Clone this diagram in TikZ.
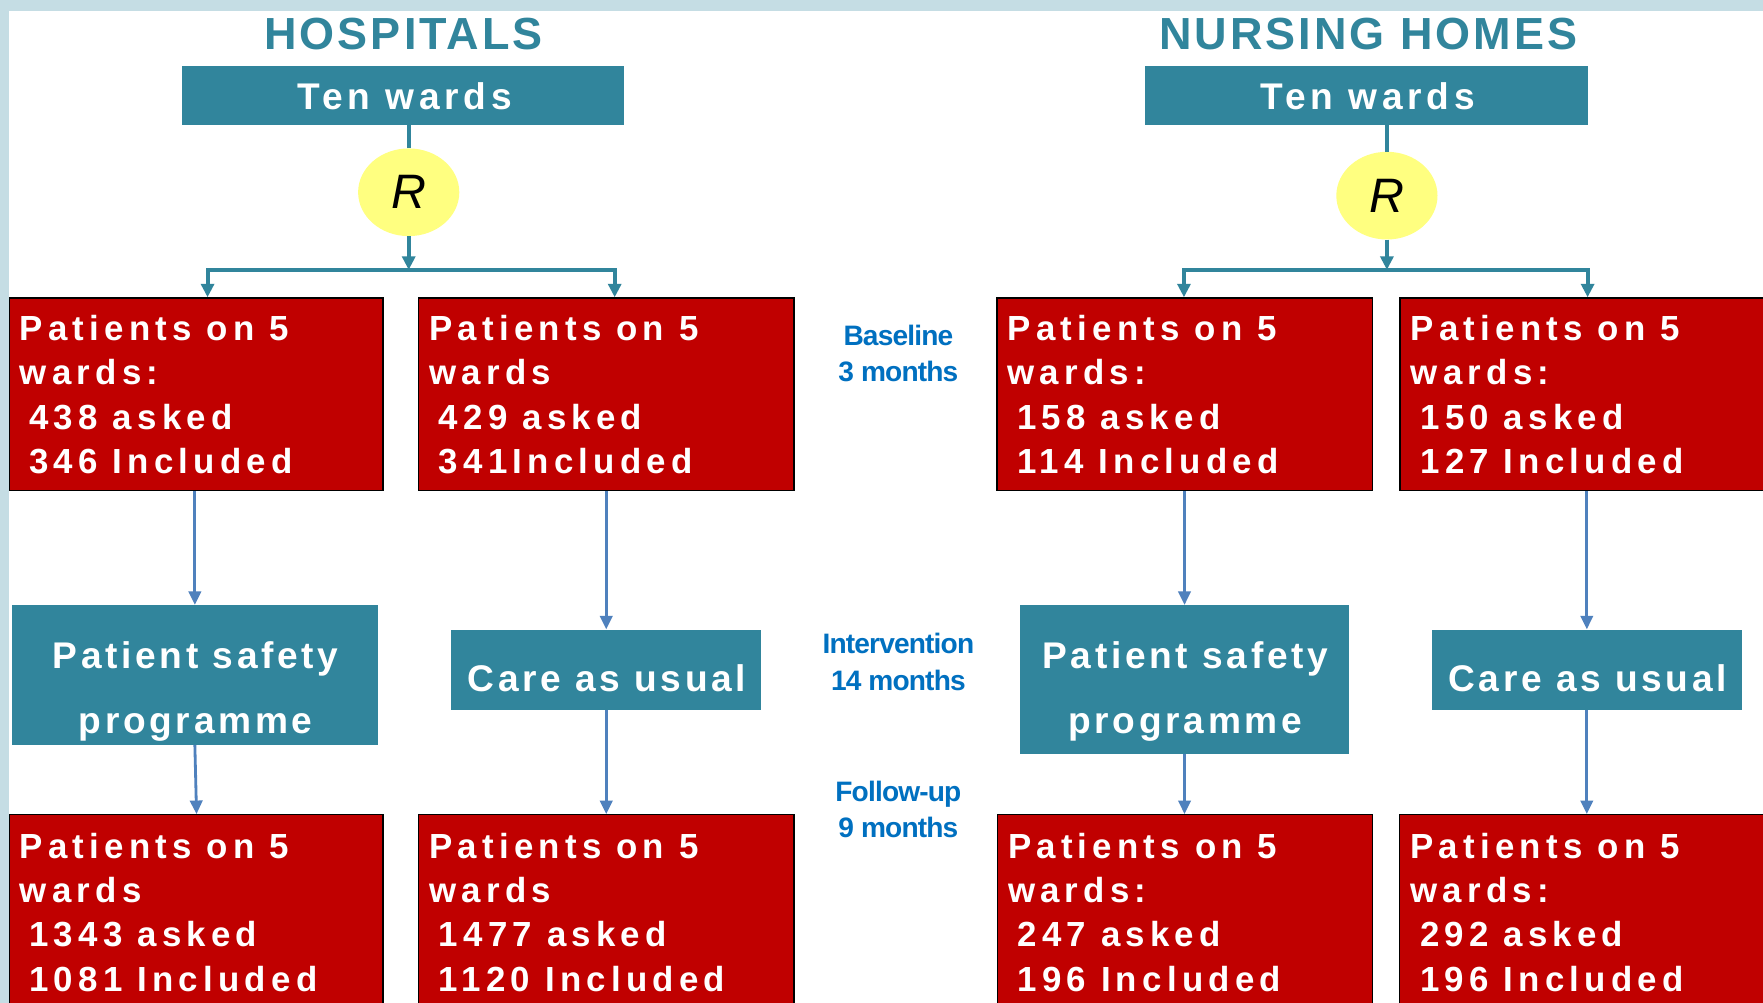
\documentclass[tikz,border=0pt]{standalone}
\usepackage{fontspec}
\setmainfont{Liberation Sans}
\newfontfamily\boxfont[LetterSpace=15]{Liberation Sans}
\newfontfamily\tealfont[LetterSpace=10]{Liberation Sans}
\newfontfamily\wardfont[LetterSpace=13]{Liberation Sans}
\newfontfamily\titlefont[LetterSpace=6.8]{Liberation Sans}
\newfontfamily\tightfont[LetterSpace=-3]{Liberation Sans}
\usetikzlibrary{arrows.meta,shapes.geometric}
\definecolor{tealc}{HTML}{31859C}
\definecolor{redc}{HTML}{C00000}
\definecolor{bluec}{HTML}{4F81BD}
\definecolor{lbluec}{HTML}{0070C0}
\definecolor{yelc}{HTML}{FFFF80}
\definecolor{bandc}{HTML}{C5DDE4}
\begin{document}
\begin{tikzpicture}[x=1pt,y=-1pt,
  redbox/.style={draw=black,line width=1.2pt,fill=redc,anchor=north west,inner sep=0pt,minimum height=171.4pt},
  tealbox/.style={fill=tealc,anchor=north west,inner sep=0pt},
  redtext/.style={anchor=north west,inner sep=0pt,align=left,text=white,font=\boxfont\bfseries\fontsize{31}{39.5}\selectfont},
  tealtext/.style={inner sep=0pt,align=center,text=white,font=\tealfont\bfseries\fontsize{33}{57.6}\selectfont},
  wardtext/.style={inner sep=0pt,anchor=base,text=white,font=\wardfont\bfseries\fontsize{33}{40}\selectfont},
  titletext/.style={anchor=base,inner sep=0pt,text=tealc,font=\titlefont\bfseries\fontsize{40}{48}\selectfont},
  phasetext/.style={anchor=north,inner sep=0pt,align=center,text=lbluec,font=\tightfont\bfseries\fontsize{25}{32.5}\selectfont},
  rnode/.style={ellipse,fill=yelc,minimum width=90pt,minimum height=78pt,inner sep=0pt,font=\itshape\fontsize{43}{48}\selectfont},
  tealline/.style={draw=tealc,line width=3.5pt},
  tealtip/.style={-{Triangle[width=11.5pt,length=12pt]}},
  bluearrow/.style={draw=bluec,line width=2.5pt,-{Triangle[width=11pt,length=12pt]}}
]
\clip (0,0) rectangle (1568,892);
\fill[white] (0,0) rectangle (1568,892);
\fill[bandc] (0,0) rectangle (1568,9.8);
\fill[bandc] (0,0) rectangle (7.7,892);

% titles
\node[titletext] (htitle) at (359,43.9) {HOSPITALS};
\node[titletext] (ntitle) at (1217,43.9) {NURSING HOMES};

% ten wards
\node[tealbox,minimum width=393pt,minimum height=51.9pt] (tw1) at (162,58.7) {};
\node[tealbox,minimum width=394pt,minimum height=51.9pt] (tw2) at (1018,58.7) {};
\node[wardtext] (tw1t) at (360,97.8) {Ten wards};
\node[wardtext] (tw2t) at (1216.5,97.8) {Ten wards};

% randomisation
\node[rnode] (r1) at (363.5,171) {R};
\node[rnode] (r2) at (1233.5,174) {R};

% red boxes row 1
\node[redbox,minimum width=332.3pt] (h1) at (7.7,264.4) {};
\node[redbox,minimum width=333.8pt] (h2) at (371.7,264.4) {};
\node[redbox,minimum width=334pt] (n1) at (886,264.4) {};
\node[redbox,minimum width=340pt] (n2) at (1244.6,264.4) {};

\node[redtext] (h1t) at (17.4,280.1) {Patients on 5\\wards:\\\hspace*{8.5pt}438 asked\\\hspace*{8.5pt}346 Included};
\node[redtext] (h2t) at (381.7,280.1) {Patients on 5\\wards\\\hspace*{8.5pt}429 asked\\\hspace*{8.5pt}341Included};
\node[redtext] (n1t) at (896,280.1) {Patients on 5\\wards:\\\hspace*{8.5pt}158 asked\\\hspace*{8.5pt}114 Included};
\node[redtext] (n2t) at (1254.6,280.1) {Patients on 5\\wards:\\\hspace*{8.5pt}150 asked\\\hspace*{8.5pt}127 Included};

% teal boxes row 2
\node[tealbox,minimum width=325.8pt,minimum height=124pt] (hp) at (10.2,538) {};
\node[tealbox,minimum width=276pt,minimum height=71.8pt] (hc) at (401,559.7) {};
\node[tealbox,minimum width=292pt,minimum height=132pt] (np) at (907.3,538) {};
\node[tealbox,minimum width=275.4pt,minimum height=71.3pt] (nc) at (1273.4,559.7) {};

\node[tealtext,anchor=north] (hpt) at (174,570.4) {Patient safety\\programme};
\node[tealtext,anchor=north] (npt) at (1054.2,570.4) {Patient safety\\programme};
\node[tealtext,anchor=base] (hct) at (540,615) {Care as usual};
\node[tealtext,anchor=base] (nct) at (1412,615) {Care as usual};

% red boxes row 3
\node[redbox,minimum width=332.3pt,minimum height=200pt] (h3) at (7.7,724) {};
\node[redbox,minimum width=333.8pt,minimum height=200pt] (h4) at (371.7,724) {};
\node[redbox,minimum width=333.6pt,minimum height=200pt] (n3) at (886.3,724) {};
\node[redbox,minimum width=340pt,minimum height=200pt] (n4) at (1244.3,724) {};

\node[redtext] (h3t) at (17.4,740.5) {Patients on 5\\wards\\\hspace*{8.5pt}1343 asked\\\hspace*{8.5pt}1081 Included};
\node[redtext] (h4t) at (381.7,740.5) {Patients on 5\\wards\\\hspace*{8.5pt}1477 asked\\\hspace*{8.5pt}1120 Included};
\node[redtext] (n3t) at (896.3,740.5) {Patients on 5\\wards:\\\hspace*{8.5pt}247 asked\\\hspace*{8.5pt}196 Included};
\node[redtext] (n4t) at (1254.3,740.5) {Patients on 5\\wards:\\\hspace*{8.5pt}292 asked\\\hspace*{8.5pt}196 Included};

% phase labels
\node[phasetext] (base) at (799,288.8) {Baseline\\3 months};
\node[phasetext] (interv) at (799,563.3) {Intervention\\14 months};
\node[phasetext] (follow) at (799,694.2) {Follow-up\\9 months};

% teal connectors
\coordinate (hj) at (363.5,240);
\coordinate (hl) at (184.6,240);
\coordinate (hr) at (546.7,240);
\coordinate (nj) at (1233.5,240);
\coordinate (nl) at (1053,240);
\coordinate (nr) at (1412,240);
\draw[tealline] (tw1.south -| r1.north) -- (r1.north);
\draw[tealline] (tw2.south -| r2.north) -- (r2.north);
\draw[tealline,tealtip] (r1.south) -- (hj);
\draw[tealline,tealtip] (r2.south) -- (nj);
\draw[tealline,{Triangle[width=11.5pt,length=12pt]}-{Triangle[width=11.5pt,length=12pt]}] (hl |- h1.north) -- (hl) -- (hr) -- (hr |- h2.north);
\draw[tealline,{Triangle[width=11.5pt,length=12pt]}-{Triangle[width=11.5pt,length=12pt]}] (nl |- n1.north) -- (nl) -- (nr) -- (nr |- n2.north);

% blue arrows
\draw[bluearrow] (h1.south -| hp.north) -- (hp.north);
\draw[bluearrow] (h2.south -| hc.north) -- (hc.north);
\draw[bluearrow] (n1.south -| np.north) -- (np.north);
\draw[bluearrow] (n2.south -| nc.north) -- (nc.north);
\draw[bluearrow] (hp.south) -- ([xshift=1.5pt]hp.south |- h3.north);
\draw[bluearrow] (hc.south) -- (hc.south |- h4.north);
\draw[bluearrow] (np.south) -- (np.south |- n3.north);
\draw[bluearrow] (nc.south) -- (nc.south |- n4.north);
\end{tikzpicture}
\end{document}
